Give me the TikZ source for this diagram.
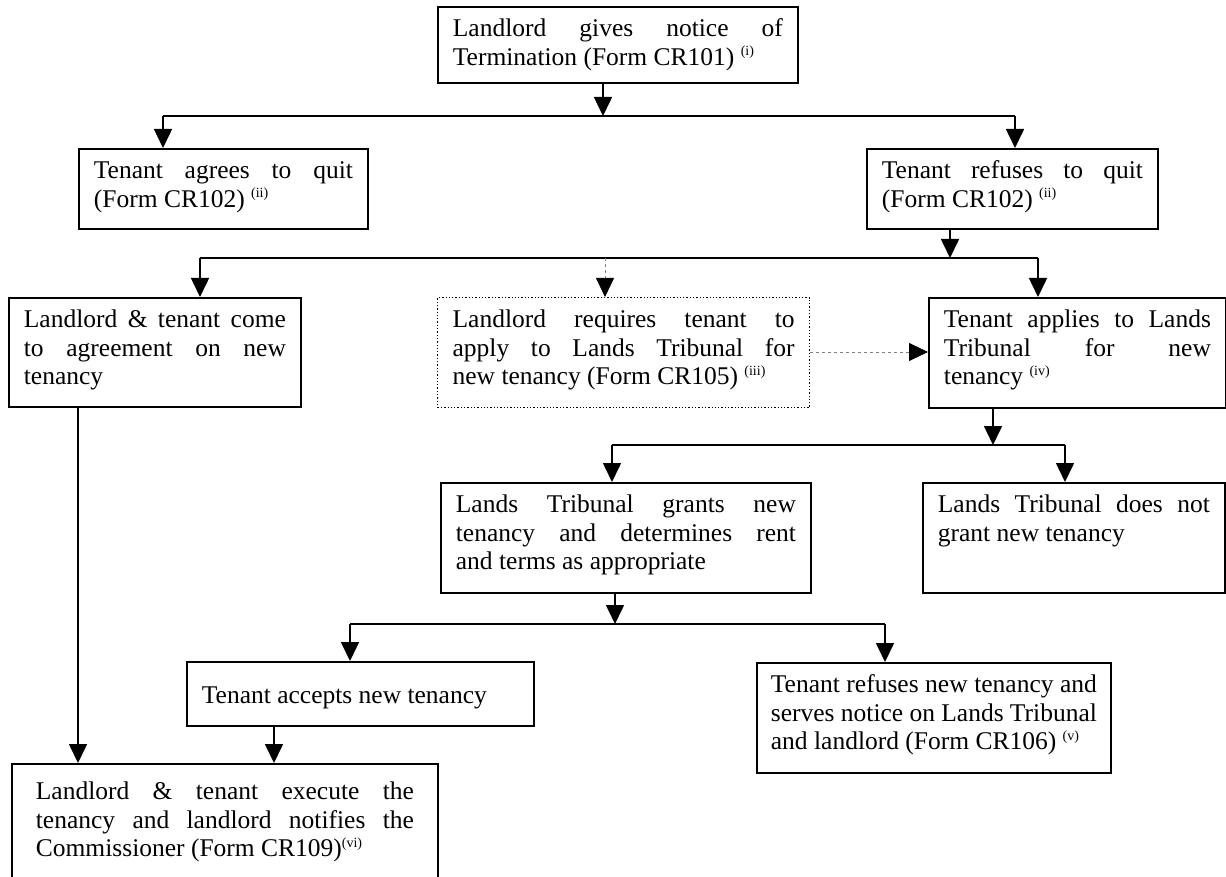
\documentclass[tikz,border=0pt]{standalone}
\usepackage{fontspec}
\setmainfont{Liberation Serif}
\usetikzlibrary{arrows.meta}
\newcommand{\supnote}[1]{\raisebox{9.5pt}{\fontsize{14}{14}\selectfont #1}}
\tikzset{
  box/.style={draw, line width=1.8pt, inner xsep=15pt, inner ysep=0pt, text height=30pt,
    align=justify, anchor=north west, font=\fontsize{25.5}{28.5}\selectfont},
  dotbox/.style={box, line width=1.3pt, dotted},
  conn/.style={line width=1.6pt},
  arr/.style={line width=1.6pt, -{Triangle[width=18pt,length=19pt]}},
  darr/.style={draw=gray, line width=0.8pt, dashed, -{Triangle[width=18pt,length=19pt,color=black]}}
}
\begin{document}
\begin{tikzpicture}[x=1pt,y=-1pt]
\useasboundingbox (0,0) rectangle (1226,877);
% boxes
\node[box, text width=330pt, text depth=46pt] (T) at (437,6)
  {Landlord gives notice of\linebreak Termination (Form CR101) \supnote{(i)}};
\node[box, text width=259pt, text depth=50pt] (A) at (78,148)
  {Tenant agrees to quit\linebreak (Form CR102) \supnote{(ii)}};
\node[box, text width=261pt, text depth=50pt] (B) at (866,148)
  {Tenant refuses to quit\linebreak (Form CR102) \supnote{(ii)}};
\node[box, text width=262pt, text depth=79pt] (C) at (8,297)
  {Landlord \& tenant come\linebreak to agreement on new\linebreak tenancy};
\node[dotbox, text width=342pt, text depth=80pt] (D) at (437,297)
  {Landlord requires tenant to\linebreak apply to Lands Tribunal for\linebreak new tenancy (Form CR105) \supnote{(iii)}};
\node[box, text width=267pt, text depth=80pt] (E) at (928,297)
  {Tenant applies to Lands\linebreak Tribunal for new\linebreak tenancy \supnote{(iv)}};
\node[box, text width=340pt, text depth=80pt] (F) at (440,482)
  {Lands Tribunal grants new\linebreak tenancy and determines rent\linebreak and terms as appropriate};
\node[box, text width=272pt, text depth=80pt] (G) at (922,482)
  {Lands Tribunal does not\linebreak grant new tenancy};
\node[box, text width=317pt, text height=42pt, text depth=22pt] (H) at (186,661)
  {Tenant accepts new tenancy};
\node[box, inner xsep=14pt, text width=326pt, text depth=80pt] (J) at (756,662)
  {Tenant refuses new tenancy and\linebreak serves notice on Lands Tribunal\linebreak and landlord (Form CR106) \supnote{(v)}};
\node[box, inner xsep=24pt, text width=378pt, text height=36pt, text depth=79pt] (I) at (11,763)
  {Landlord \& tenant execute the\linebreak tenancy and landlord notifies the\linebreak Commissioner (Form CR109)\supnote{(vi)}};
% junction coordinates
\coordinate (t1) at (603,116);
\coordinate (l1) at (163,116);
\coordinate (r1) at (1015,116);
\coordinate (b2) at (950,258);
\coordinate (l2) at (200,258);
\coordinate (m2) at (605,258);
\coordinate (r2) at (1038,258);
\coordinate (dy) at (0,352);
\coordinate (e3) at (993,445);
\coordinate (l3) at (612,445);
\coordinate (r3) at (1065,445);
\coordinate (f4) at (615,624);
\coordinate (l4) at (350,624);
\coordinate (r4) at (885,624);
\coordinate (cx) at (78,0);
\coordinate (hx) at (274,0);
% level 1
\draw[conn] (l1) -- (r1);
\draw[arr] (T.south -| t1) -- (t1);
\draw[arr] (l1) -- (l1 |- A.north);
\draw[arr] (r1) -- (r1 |- B.north);
% level 2
\draw[conn] (l2) -- (r2);
\draw[arr] (B.south -| b2) -- (b2);
\draw[arr] (l2) -- (l2 |- C.north);
\draw[darr] (m2) -- (m2 |- D.north);
\draw[arr] (r2) -- (r2 |- E.north);
\draw[darr] (D.east |- dy) -- (E.west |- dy);
% level 3
\draw[conn] (l3) -- (r3);
\draw[arr] (E.south -| e3) -- (e3);
\draw[arr] (l3) -- (l3 |- F.north);
\draw[arr] (r3) -- (r3 |- G.north);
% level 4
\draw[conn] (l4) -- (r4);
\draw[arr] (F.south -| f4) -- (f4);
\draw[arr] (l4) -- (l4 |- H.north);
\draw[arr] (r4) -- (r4 |- J.north);
% to final box
\draw[arr] (C.south -| cx) -- (cx |- I.north);
\draw[arr] (H.south -| hx) -- (hx |- I.north);
\end{tikzpicture}
\end{document}
